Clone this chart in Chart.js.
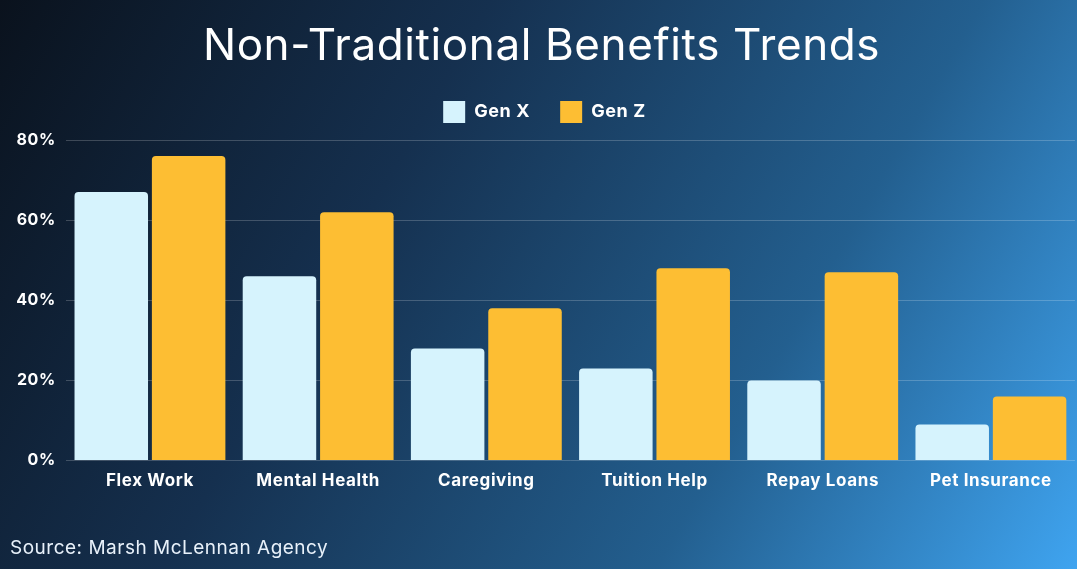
<!DOCTYPE html>
<html>
<head>
<meta charset="utf-8">
<script src="https://cdn.jsdelivr.net/npm/chart.js@4.4.1/dist/chart.umd.min.js"></script>
<style>
    html, body { margin: 0; padding: 0; }
    body {
        width: 1077px; height: 569px; overflow: hidden; position: relative;
        background: linear-gradient(120deg, #0a121d 0%, #15304f 35%, #235f8f 70%, #3fa4f0 100%);
        font-family: 'Inter', sans-serif;
    }
    #wrap { position: absolute; left: 0; top: 0; width: 1077px; height: 569px; }
    .source {
        position: absolute; left: 10px; top: 536px;
        color: #e8f1fa; font-size: 19px; font-weight: 400; letter-spacing: 0.5px;
    }
</style>
</head>
<body>
<div id="wrap"><canvas id="chart" width="1077" height="569"></canvas></div>
<div class="source">Source: Marsh McLennan Agency</div>
<script>
// chart data
const categories = ['Flex Work', 'Mental Health', 'Caregiving', 'Tuition Help', 'Repay Loans', 'Pet Insurance'];
const genX = [67, 46, 28, 23, 20, 9];
const genZ = [76, 62, 38, 48, 47, 16];
const yTicks = [0, 20, 40, 60, 80];

// wider letter spacing to get closer to the geometric font of the original
const spacingPlugin = {
    id: 'spacing',
    beforeDraw(chart) { chart.ctx.letterSpacing = '0.6px'; }
};

// extra room under the legend
const legendGap = {
    id: 'legendGap',
    beforeInit(chart) {
        const fit = chart.legend.fit;
        chart.legend.fit = function () {
            fit.bind(chart.legend)();
            this.height += 7;
        };
    }
};

const ctx = document.getElementById('chart').getContext('2d');

new Chart(ctx, {
    type: 'bar',
    data: {
        labels: categories,
        datasets: [
            {
                label: 'Gen X',
                data: genX,
                backgroundColor: '#d6f3fd',
                borderRadius: 4,
                borderSkipped: 'bottom',
                barPercentage: 0.95,
                categoryPercentage: 0.92
            },
            {
                label: 'Gen Z',
                data: genZ,
                backgroundColor: '#fdbe33',
                borderRadius: 4,
                borderSkipped: 'bottom',
                barPercentage: 0.95,
                categoryPercentage: 0.92
            }
        ]
    },
    options: {
        responsive: false,
        animation: false,
        layout: { padding: { left: 8, right: 2, top: 25, bottom: 76 } },
        scales: {
            y: {
                min: 0,
                max: 80,
                afterBuildTicks: axis => { axis.ticks = yTicks.map(v => ({ value: v })); },
                ticks: {
                    color: '#ffffff',
                    padding: 10,
                    font: { family: 'Inter', size: 16, weight: '700' },
                    callback: v => v + '%'
                },
                grid: { color: 'rgba(255,255,255,0.2)', lineWidth: 1, drawTicks: false },
                border: { display: false }
            },
            x: {
                ticks: {
                    color: '#ffffff',
                    padding: 2,
                    font: { family: 'Inter', size: 17, weight: '700' }
                },
                grid: { display: false },
                border: { display: false }
            }
        },
        plugins: {
            title: {
                display: true,
                text: 'Non-Traditional Benefits Trends',
                color: '#ffffff',
                font: { family: 'Inter', size: 44, weight: '400', lineHeight: 1.0 },
                padding: { top: 0, bottom: 2 }
            },
            legend: {
                display: true,
                labels: {
                    color: '#ffffff',
                    boxWidth: 22,
                    boxHeight: 22,
                    padding: 30,
                    font: { family: 'Inter', size: 18, weight: '700' }
                }
            },
            tooltip: { enabled: false }
        }
    },
    plugins: [spacingPlugin, legendGap]
});
</script>
</body>
</html>
